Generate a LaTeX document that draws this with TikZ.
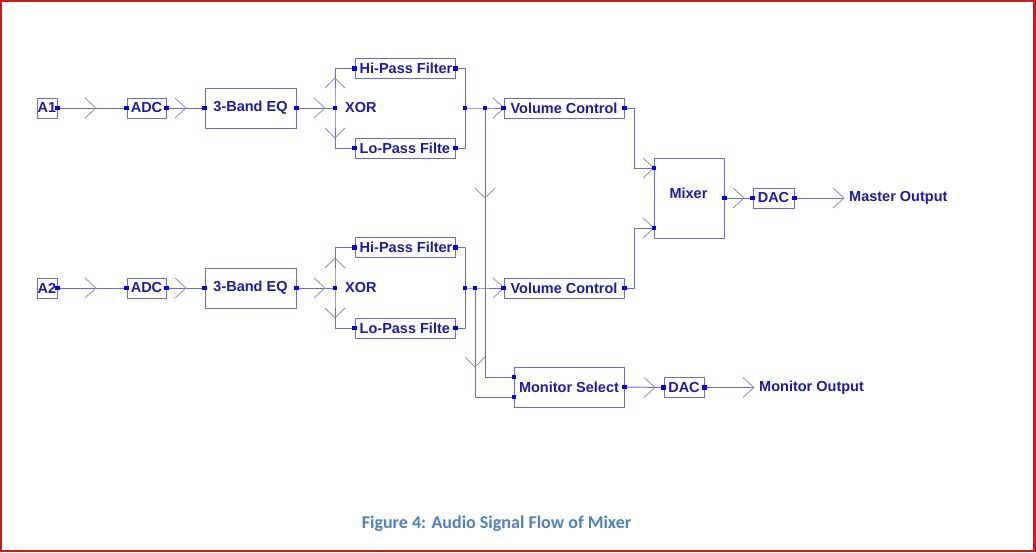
\documentclass[tikz,border=0pt]{standalone}
\usepackage{fontspec}
\setmainfont{Liberation Sans}
\newfontfamily\capfont{Carlito}
\usetikzlibrary{calc}
\definecolor{wire}{RGB}{105,105,225}
\definecolor{chevcol}{RGB}{140,140,205}
\definecolor{txtblue}{RGB}{28,28,170}
\definecolor{dotblue}{RGB}{0,0,225}
\definecolor{capblue}{RGB}{79,129,189}
\definecolor{frame}{RGB}{200,30,30}
\tikzset{
  wireline/.style={draw=wire, line width=0.9pt},
  chevline/.style={draw=chevcol, line width=0.8pt},
  blk/.style={draw=wire, line width=0.9pt, inner sep=0pt, text=txtblue,
    font=\fontsize{14.5}{16}\selectfont\bfseries},
  lbl/.style={inner sep=0pt, text=txtblue, font=\fontsize{14.5}{16}\selectfont\bfseries},
  port/.style={fill=dotblue, minimum size=4.6pt, inner sep=0pt, rectangle},
  chevR/.pic={\draw[chevline] (-11,-10) -- (0,0) -- (-11,10);},
  chevU/.pic={\draw[chevline] (-10,10) -- (0,0) -- (10,10);},
  chevD/.pic={\draw[chevline] (-10,-10) -- (0,0) -- (10,-10);},
}
\begin{document}
\begin{tikzpicture}[x=1pt,y=-1pt]
\useasboundingbox (0,0) rectangle (1036,552);
\fill[white] (0,0) rectangle (1036,552);
\draw[frame, line width=2.2pt] (1.1,1.1) rectangle (1034.4,550.6);

% ---- Row 1 ----
\node[blk, minimum width=20pt, minimum height=20pt] (a1) at (47,108) {A1};
\node[blk, minimum width=39pt, minimum height=20pt] (adc1) at (146.5,108) {ADC};
\node[blk, minimum width=91pt, minimum height=40pt] (eq1) at (250.5,108) {3-Band EQ};
\coordinate (xor1) at (335,108);
\node[lbl, anchor=west] (xorl1) at (345,108) {XOR};
\node[blk, minimum width=100pt, minimum height=20pt] (hp1) at (405,68.5) {};
\node[lbl, anchor=west] (hpt1) at (359.5,68.5) {Hi-Pass Filter};
\node[blk, minimum width=100pt, minimum height=20pt] (lp1) at (405,148) {};
\node[lbl, anchor=west] (lpt1) at (359.5,148) {Lo-Pass Filte};
\coordinate (j1a) at (465,108);
\coordinate (j1b) at (485,108);
\node[blk, minimum width=120pt, minimum height=20pt] (vc1) at (564,108) {Volume Control};

% ---- Row 2 ----
\node[blk, minimum width=20pt, minimum height=20pt] (a2) at (47,288) {A2};
\node[blk, minimum width=39pt, minimum height=20pt] (adc2) at (146.5,288) {ADC};
\node[blk, minimum width=91pt, minimum height=40pt] (eq2) at (250.5,288) {3-Band EQ};
\coordinate (xor2) at (335,288);
\node[lbl, anchor=west] (xorl2) at (345,288) {XOR};
\node[blk, minimum width=100pt, minimum height=20pt] (hp2) at (405,247.5) {};
\node[lbl, anchor=west] (hpt2) at (359.5,247.5) {Hi-Pass Filter};
\node[blk, minimum width=100pt, minimum height=20pt] (lp2) at (405,328) {};
\node[lbl, anchor=west] (lpt2) at (359.5,328) {Lo-Pass Filte};
\coordinate (j2a) at (465,288);
\coordinate (j2b) at (475,288);
\node[blk, minimum width=120pt, minimum height=20pt] (vc2) at (564,288) {Volume Control};

% ---- Mixer / outputs ----
\node[blk, minimum width=70pt, minimum height=80pt] (mix) at (689,198) {};
\node[lbl] (mixl) at (688.5,193) {Mixer};
\coordinate (mxin1) at (654,168);
\coordinate (mxin2) at (654,228);
\node[blk, minimum width=41pt, minimum height=20pt] (dac1) at (773.5,198) {DAC};
\coordinate (mout) at (844,198);
\node[lbl, anchor=west] (mastero) at (849,198) {Master Output};

\node[blk, minimum width=110pt, minimum height=40pt] (ms) at (569,387) {Monitor Select};
\coordinate (msin1) at (514,377);
\coordinate (msin2) at (514,397);
\node[blk, minimum width=40pt, minimum height=20pt] (dac2) at (684,387.5) {DAC};
\coordinate (monout) at (754,387.5);
\node[lbl, anchor=west] (monitoro) at (759,387.5) {Monitor Output};

% ---- Wires ----
\foreach \r in {1,2}{
  \draw[wireline] (a\r.east) -- (adc\r.west);
  \draw[wireline] (adc\r.east) -- (eq\r.west);
  \draw[wireline] (eq\r.east) -- (xor\r);
  \draw[wireline] (hp\r.west) -| (xor\r) |- (lp\r.west);
  \draw[wireline] (hp\r.east) -| (j\r a);
  \draw[wireline] (lp\r.east) -| (j\r a);
  \draw[wireline] (j\r a) -- (j\r b) -- (vc\r.west);
}
\draw[wireline] (j1b) |- (msin1);
\draw[wireline] (j2b) |- (msin2);
\draw[wireline] (vc1.east) -- ++(10,0) |- (mxin1);
\draw[wireline] (vc2.east) -- ++(10,0) |- (mxin2);
\draw[wireline] (mix.east) -- (dac1.west);
\draw[wireline] (dac1.east) -- (mout);
\draw[wireline] (ms.east) -- (dac2.west);
\draw[wireline] (dac2.east) -- (monout);

% ---- Chevrons ----
\foreach \y in {108,288}{
  \pic at (96,\y) {chevR};
  \pic at (186,\y) {chevR};
  \pic at (325,\y) {chevR};
  \pic at (504,\y) {chevR};
}
\pic at (335,78) {chevU};
\pic at (335,138) {chevD};
\pic at (335,258) {chevU};
\pic at (335,318) {chevD};
\pic at (485,198) {chevD};
\pic at (475,367) {chevD};
\pic at (654,168) {chevR};
\pic at (654,228) {chevR};
\pic at (744,198) {chevR};
\pic at (844,198) {chevR};
\pic at (655,387.5) {chevR};
\pic at (754,387.5) {chevR};

% ---- Port dots ----
\foreach \n in {a1.east,adc1.west,adc1.east,eq1.west,eq1.east,xor1,hp1.west,hp1.east,lp1.west,lp1.east,j1a,j1b,vc1.west,vc1.east,
                a2.east,adc2.west,adc2.east,eq2.west,eq2.east,xor2,hp2.west,hp2.east,lp2.west,lp2.east,j2a,j2b,vc2.west,vc2.east,
                mxin1,mxin2,mix.east,dac1.west,dac1.east,msin1,msin2,ms.east,dac2.west,dac2.east}
  \node[port] at (\n) {};

% ---- Caption ----
\node[inner sep=0pt, text=capblue, font=\capfont\fontsize{18}{20}\selectfont\bfseries] (cap) at (496.5,523.5) {Figure 4: Audio Signal Flow of Mixer};
\end{tikzpicture}
\end{document}
